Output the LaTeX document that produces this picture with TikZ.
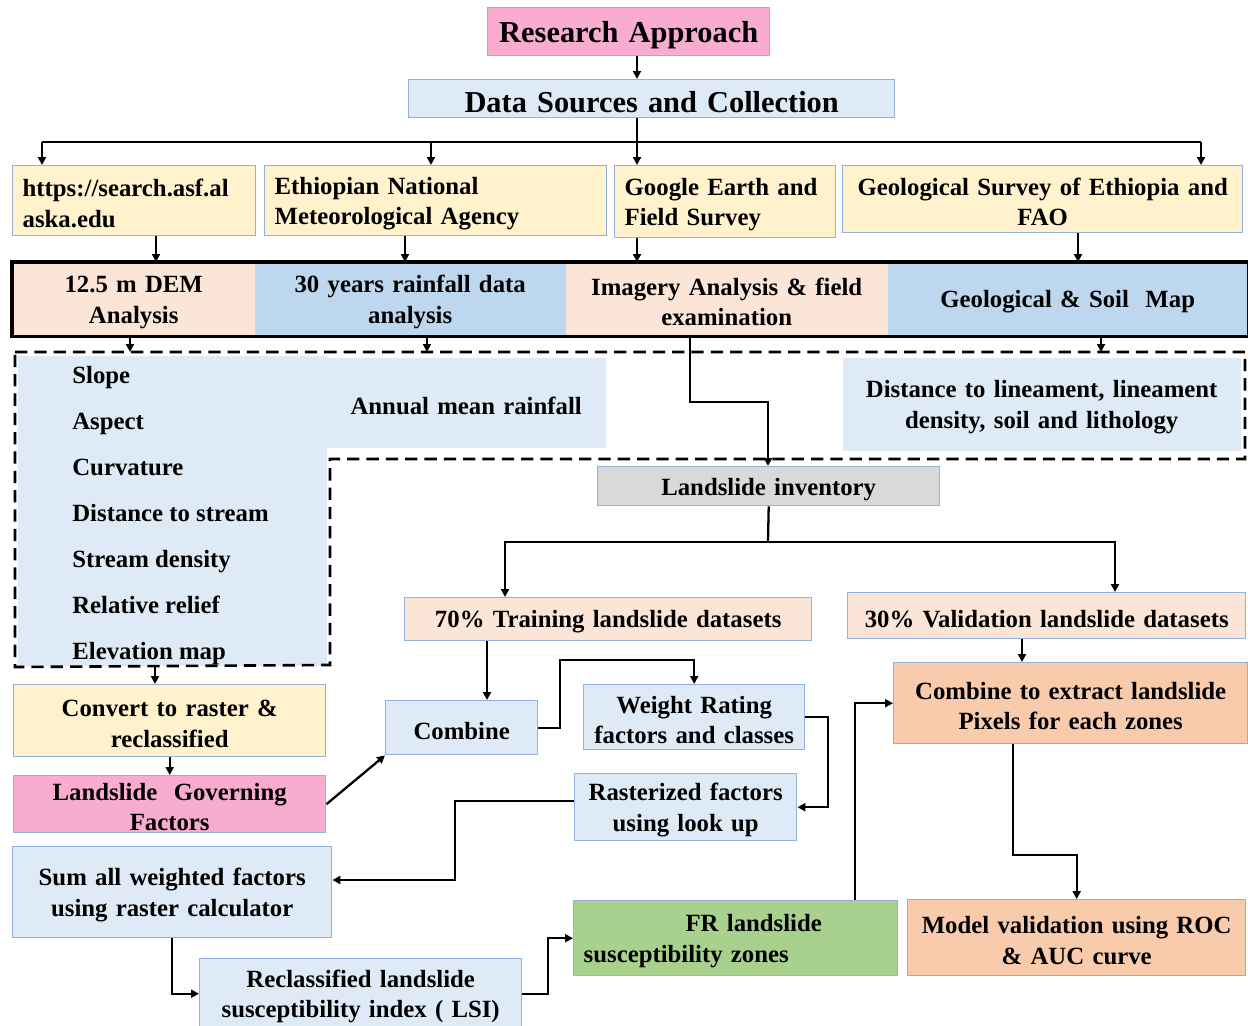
\documentclass[tikz,border=0pt]{standalone}
\usepackage{fontspec}
\setmainfont{Liberation Serif}
\usetikzlibrary{arrows.meta,calc}
\hyphenpenalty=10000
\exhyphenpenalty=10000

\definecolor{pinkbox}{HTML}{F8ACD0}
\definecolor{paleblue}{HTML}{DEEBF7}
\definecolor{midblue}{HTML}{BDD7EE}
\definecolor{cream}{HTML}{FFF2CC}
\definecolor{peach}{HTML}{FBE5D6}
\definecolor{salmon}{HTML}{F8CBAD}
\definecolor{greenbox}{HTML}{A9D18E}
\definecolor{greybox}{HTML}{D9D9D9}
\definecolor{edge}{HTML}{93B1DC}

\tikzset{
  bodyfont/.style={font={\fontsize{14.1}{17.4}\selectfont\bfseries}},
  titlefont/.style={font={\fontsize{17.3}{20}\selectfont\bfseries}},
  box/.style={draw=edge, line width=0.8pt, inner xsep=0.12cm, inner ysep=0pt,
    align=center, bodyfont,
    % a tall first-line strut lowers the text block slightly
    execute at begin node={\rule{0pt}{0.93em}}},
  lefty/.style={align=left, inner xsep=0.2cm},
  seg/.style={box, draw=none},
  line/.style={line width=1.3pt, line join=miter},
  arr/.style={line, -{Triangle[length=4.5pt,width=4.5pt]}},
  group/.style={line width=1.5pt, dash pattern=on 7pt off 4pt},
  item/.style={anchor=base west, inner sep=0pt, bodyfont},
}

% box given by its top-left and bottom-right corners (x1,y1,x2,y2)
\newcommand\boxnode[7]{%
  \node[box,#6,anchor=north west,
    minimum width={(#4-#2)*0.02cm},
    minimum height={(#5-#3)*0.02cm},
    text width={(#4-#2)*0.02cm-2*\pgfkeysvalueof{/pgf/inner xsep}}] (#1) at (#2,#3) {#7};}

\begin{document}
\begin{tikzpicture}[x=0.02cm,y=-0.02cm]
\useasboundingbox (0,0) rectangle (1248,1025);

% ---- header ----
\boxnode{ra}{487}{7}{769}{55}{fill=pinkbox,titlefont}{Research Approach}
\boxnode{ds}{408}{79}{894}{117}{fill=paleblue,titlefont}{Data Sources and Collection}

% ---- data sources ----
\boxnode{b1}{12}{165}{255}{235}{fill=cream,lefty}{https://search.asf.al\\aska.edu}
\boxnode{b2}{264}{165}{606}{235}{fill=cream,lefty}{Ethiopian National\\Meteorological Agency}
\boxnode{b3}{614}{165}{835}{237}{fill=cream,lefty}{Google Earth and\\Field Survey}
\boxnode{b4}{842}{165}{1242}{232}{fill=cream}{Geological Survey of Ethiopia and\\FAO}

% ---- analysis bar ----
\boxnode{dem}{12}{262}{254}{335}{seg,fill=peach}{12.5 m DEM\\Analysis}
\boxnode{rain}{254}{262}{565}{335}{seg,fill=midblue}{30 years rainfall data\\analysis}
\boxnode{img}{565}{262}{887}{335}{seg,fill=peach}{Imagery Analysis \& field\\examination}
\boxnode{geo}{887}{262}{1247}{335}{seg,fill=midblue}{Geological \& Soil\ \ Map}
\draw[line width=1.8pt] (dem.north west) rectangle (geo.south east);

% ---- derived factors ----
\boxnode{facts}{17}{355}{326}{665}{seg,fill=paleblue}{}
\boxnode{am}{326}{357}{605}{447}{seg,fill=paleblue}{Annual mean rainfall}
\boxnode{dl}{842}{357}{1240}{450}{seg,fill=paleblue}{Distance to lineament, lineament\\density, soil and lithology}
\node[item] (f1) at (72,383) {Slope};
\node[item] (f2) at (72,429) {Aspect};
\node[item] (f3) at (72,475) {Curvature};
\node[item] (f4) at (72,521) {Distance to stream};
\node[item] (f5) at (72,567) {Stream density};
\node[item] (f6) at (72,613) {Relative relief};
\node[item] (f7) at (72,659) {Elevation map};
\draw[group] (15,352) -- (1245,352) -- (1245,459) -- (330,459)
  -- (330,665) -- (15,667) -- cycle;

% ---- inventory and processing ----
\boxnode{li}{597}{466}{939}{505}{fill=greybox}{Landslide inventory}
\boxnode{tr}{404}{597}{811}{640}{fill=peach}{70\% Training landslide datasets}
\boxnode{va}{847}{592}{1245}{638}{fill=peach}{30\% Validation landslide datasets}
\boxnode{cv}{13}{684}{325}{756}{fill=cream}{Convert to raster \&\\reclassified}
\boxnode{lg}{13}{775}{325}{832}{fill=pinkbox}{Landslide\ \ Governing\\Factors}
\boxnode{cb}{385}{700}{537}{754}{fill=paleblue}{Combine}
\boxnode{wr}{583}{684}{804}{749}{fill=paleblue}{Weight Rating\\factors and classes}
\boxnode{rf}{574}{773}{796}{840}{fill=paleblue}{Rasterized factors\\using look up}
\boxnode{sm}{12}{846}{331}{937}{fill=paleblue}{Sum all weighted factors\\using raster calculator}
\boxnode{rc}{199}{958}{521}{1028}{fill=paleblue}{Reclassified landslide\\susceptibility index ( LSI)}
\boxnode{fr}{573}{900}{897}{975}{fill=greenbox,lefty}{\hspace*{58pt}FR landslide\\susceptibility zones}
\boxnode{ce}{893}{662}{1247}{743}{fill=salmon}{Combine to extract landslide\\Pixels for each zones}
\boxnode{mv}{907}{899}{1245}{975}{fill=salmon}{Model validation using ROC\\\& AUC curve}

% ---- lanes and bend points ----
\coordinate (bus)  at (637,142);
\coordinate (busL) at (42,142);
\coordinate (busR) at (1201,142);
\coordinate (k2)   at (431,142);
\coordinate (k3)   at (156,0);
\coordinate (k4)   at (405,0);
\coordinate (k5)   at (1078,0);
\coordinate (dtop) at (0,352);
\coordinate (k6)   at (130,0);
\coordinate (k7)   at (427,0);
\coordinate (k8)   at (1101,0);
\coordinate (bend1) at (690,402);
\coordinate (bend2) at (768,402);
\coordinate (spl)  at (768,542);
\coordinate (spL)  at (505,542);
\coordinate (spR)  at (1115,542);
\coordinate (k9)   at (487,0);
\coordinate (w1)   at (560,660);
\coordinate (w2)   at (828,0);
\coordinate (w3)   at (455,801);
\coordinate (w4)   at (455,880);
\coordinate (w5)   at (548,0);
\coordinate (w6)   at (855,0);
\coordinate (w7)   at (1022,0);
\coordinate (w8)   at (1013,855);
\coordinate (w9)   at (155,667);

% ---- connectors ----
\draw[arr] (ra.south -| bus) -- (ds.north -| bus);
\draw[line] (ds.south -| bus) -- (bus);
\draw[line] (busL) -- (busR);
\draw[arr] (busL) -- (busL |- b1.north);
\draw[arr] (k2) -- (k2 |- b2.north);
\draw[arr] (bus) -- (bus |- b3.north);
\draw[arr] (busR) -- (busR |- b4.north);

\draw[arr] (b1.south -| k3) -- (dem.north -| k3);
\draw[arr] (b2.south -| k4) -- (rain.north -| k4);
\draw[arr] (b3.south -| bus) -- (img.north -| bus);
\draw[arr] (b4.south -| k5) -- (geo.north -| k5);

\draw[arr] (dem.south -| k6) -- (k6 |- dtop);
\draw[arr] (rain.south -| k7) -- (k7 |- dtop);
\draw[arr] (geo.south -| k8) -- (k8 |- dtop);
\draw[arr] (img.south -| bend1) -- (bend1) -- (bend2) -- (bend2 |- li.north);

\draw[line] (li.south) -- (spl);
\draw[arr] (spl) -- (spL) -- (spL |- tr.north);
\draw[arr] (spl) -- (spR) -- (spR |- va.north);

\draw[arr] (tr.south -| k9) -- (k9 |- cb.north);
\draw[arr] (cb.east) -| (w1) -| (wr.north);
\draw[arr] (wr.east) -| (w2 |- rf.east) -- (rf.east);
\draw[arr] (rf.west |- w3) -- (w3) -- (w4) -- (w4 -| sm.east);
\draw[arr] (sm.south) |- (rc.west);
\draw[arr] (rc.east) -| (w5 |- fr.west) -- (fr.west);
\draw[arr] (fr.north -| w6) |- (ce.west);
\draw[arr] (va.south -| w7) -- (w7 |- ce.north);
\draw[arr] (ce.south -| w8) -- (w8) -| (mv.north);

\draw[arr] (w9) -- (w9 |- cv.north);
\draw[arr] (cv.south) -- (lg.north);
\draw[arr] (lg.east) -- (cb.south west);
\end{tikzpicture}
\end{document}
